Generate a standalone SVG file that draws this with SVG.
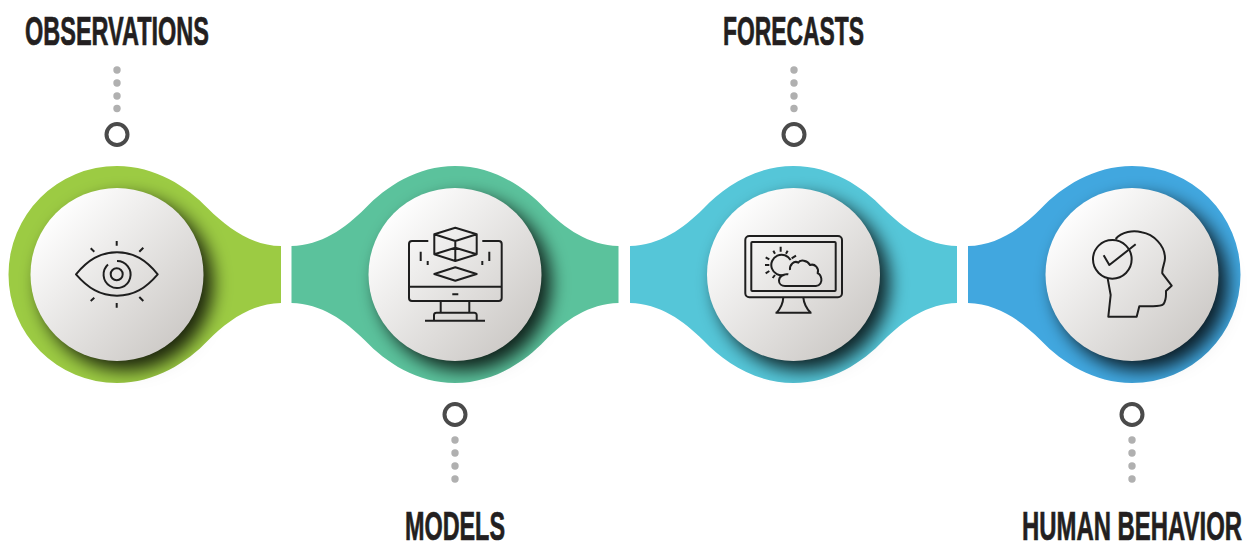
<svg xmlns="http://www.w3.org/2000/svg" width="1250" height="541" viewBox="0 0 1250 541">
<style>
.lbl{font-family:"Liberation Sans Narrow","Liberation Sans",Arial,sans-serif;font-weight:700;font-size:41px;fill:#231f20;stroke:#231f20;stroke-width:.7px}
.ring{fill:none;stroke:#4a4a4a;stroke-width:4}
.dot{fill:#b0b0b0}
.disc{fill:url(#discGrad)}
.shadow{fill:#000;fill-opacity:.82;filter:url(#blur)}
.faint{fill:#000;fill-opacity:.1;filter:url(#blur)}
.ico{fill:none;stroke:#1e1e1e;stroke-width:2;stroke-linecap:butt;stroke-linejoin:round}
.big{stroke-width:6}
</style>
<defs>
<linearGradient id="discGrad" x1="0.13" y1="0.13" x2="0.87" y2="0.87">
<stop offset="0" stop-color="#ffffff"/><stop offset="1" stop-color="#cdcac7"/>
</linearGradient>
<filter id="blur" x="-30%" y="-30%" width="160%" height="160%"><feGaussianBlur stdDeviation="9"/></filter>
<path id="shapeL" d="M164,-28.5C135,-29 111,-46 91,-66C70,-88 38,-108.5 0,-108.5A108.5,108.5 0 0 0 0,108.5C38,108.5 70,88 91,66C111,46 135,29 164,28.5Z"/>
<path id="shapeM" d="M-163.500,-28.500C-134,-29 -110,-46 -90,-66C-69,-88 -38,-108.500 0,-108.500C38,-108.500 69,-88 90,-66C110,-46 134,-29 163.500,-28.500L163.500,28.500C134,29 110,46 90,66C69,88 38,108.500 0,108.500C-38,108.500 -69,88 -90,66C-110,46 -134,29 -163.500,28.500Z"/>
<path id="shapeR" d="M-164,-28.500C-135,-29 -111,-46 -91,-66C-70,-88 -38,-108.500 0,-108.500A108.500,108.500 0 0 1 0,108.500C-38,108.500 -70,88 -91,66C-111,46 -135,29 -164,28.500Z"/>
<clipPath id="clipL"><use href="#shapeL"/></clipPath>
<clipPath id="clipM"><use href="#shapeM"/></clipPath>
<clipPath id="clipR"><use href="#shapeR"/></clipPath>
<g id="dotsUp"><circle class="dot" cx="0" cy="70" r="3.700"/><circle class="dot" cx="0" cy="83" r="3.700"/><circle class="dot" cx="0" cy="96" r="3.700"/><circle class="dot" cx="0" cy="108.500" r="3.700"/><circle class="ring" cx="0" cy="134.500" r="10.500"/></g>
<g id="dotsDown"><circle class="ring" cx="0" cy="414.500" r="10.500"/><circle class="dot" cx="0" cy="440" r="3.700"/><circle class="dot" cx="0" cy="453" r="3.700"/><circle class="dot" cx="0" cy="466" r="3.700"/><circle class="dot" cx="0" cy="479" r="3.700"/></g>
</defs>

<g id="connectors">
<use href="#dotsUp" x="117"/>
<use href="#dotsDown" x="455"/>
<use href="#dotsUp" x="794"/>
<use href="#dotsDown" x="1132"/>
</g>

<g id="node-observations">
<g transform="translate(117 274.500)">
<circle class="faint" cx="12" cy="12" r="86"/>
<use href="#shapeL" fill="#9ccb43"/>
<g clip-path="url(#clipL)"><circle class="shadow" cx="9" cy="9" r="87"/></g>
<circle class="disc" r="86.500"/>
</g>
<g class="ico">
<path d="M76,274.300C88,260 100,252.300 117,252.300C134,252.300 146,260 157.700,274.300C146,288 134,295.700 117,295.700C100,295.700 88,288 76,274.300Z"/>
<circle cx="116.700" cy="274.300" r="6"/>
<path d="M117,261A13.500,13.500 0 1 1 108,264.500"/>
<path d="M116.700,241V245.700M116.700,303V307.700M90.700,248.300L94.300,251.700M143.300,247.700L139.300,251.700M90.700,301L94.300,297.700M143.300,301L139.300,297"/>
</g>
<text class="lbl" x="25" y="44.500" textLength="184" lengthAdjust="spacingAndGlyphs">OBSERVATIONS</text>
</g>

<g id="node-models">
<g transform="translate(455 274.500)">
<circle class="faint" cx="12" cy="12" r="86"/>
<use href="#shapeM" fill="#5bc29c"/>
<g clip-path="url(#clipM)"><circle class="shadow" cx="9" cy="9" r="87"/></g>
<circle class="disc" r="86.500"/>
</g>
<g class="ico">
<path d="M428.300,241H412A3,3 0 0 0 409,244V298A3,3 0 0 0 412,301H498.700A3,3 0 0 0 501.700,298V244A3,3 0 0 0 498.700,241H482.300"/>
<path d="M409,286.700H501.700M452.300,294.300H458.300"/>
<path d="M440.700,301V312.700M469.300,301V312.700M434,320.700V315A2.500,2.500 0 0 1 436.500,312.700H474A2.500,2.500 0 0 1 476.700,315V320.700M425,320.700H485"/>
<path d="M455.300,227.700L476.700,234.300V254.300L455.300,261L434.300,254.300V234.300ZM434.300,234.300L455.300,241L476.700,234.300M455.300,241V261M434.300,254.300L455.300,247.700L476.700,254.300"/>
<path d="M434.300,274L455.300,267.300L476.700,274L455.300,280.700Z"/>
<path d="M420.700,251.700V261M427.700,261V265M489.300,251.700V261M482.300,261V265"/>
</g>
<text class="lbl" x="405" y="539.500" textLength="100" lengthAdjust="spacingAndGlyphs">MODELS</text>
</g>

<g id="node-forecasts">
<g transform="translate(793.500 274.500)">
<circle class="faint" cx="12" cy="12" r="86"/>
<use href="#shapeM" fill="#55c6d8"/>
<g clip-path="url(#clipM)"><circle class="shadow" cx="9" cy="9" r="87"/></g>
<circle class="disc" r="86.500"/>
</g>
<g class="ico">
<rect x="745.300" y="236" width="96.700" height="61.300" rx="4"/>
<rect x="751.300" y="242" width="84.400" height="49" rx="1"/>
<path d="M783.300,297.300C783,305 780,309 776.700,312.700M803.300,297.300C804,305 807,309 810.700,312.700M775.500,312.700H811.500"/>
<g transform="translate(720 210) scale(.3333)" class="big">
<path d="M212,150A31,31 0 1 0 193,195"/>
<path d="M182,110V125M160,122L165,131M203,122L198,131M137,142L148,148M135,165H148M137,190L148,183M158,204L165,195M228,137L215,145"/>
<path d="M205,193C190,190 177,200 177,212C177,222 185,228 195,228H288C300,228 306,216 304,206C302,196 297,191 293,190C298,175 285,160 270,165C262,150 240,148 235,158C222,150 208,165 210,180"/>
</g>
</g>
<text class="lbl" x="723" y="44.500" textLength="141" lengthAdjust="spacingAndGlyphs">FORECASTS</text>
</g>

<g id="node-human-behavior">
<g transform="translate(1132 274.500)">
<circle class="faint" cx="12" cy="12" r="86"/>
<use href="#shapeR" fill="#41a7df"/>
<g clip-path="url(#clipR)"><circle class="shadow" cx="9" cy="9" r="87"/></g>
<circle class="disc" r="86.500"/>
</g>
<g class="ico big" transform="translate(1070 215) scale(.3333)">
<circle cx="127" cy="133" r="58"/>
<path d="M101,121L118,150L197,88"/>
<path d="M137,72C155,50 190,45 215,52C250,58 285,90 285,130C285,145 275,160 277,175L305,212L288,228C288,240 290,255 280,268C270,277 255,272 208,274L200,305H115L122,240L113,190"/>
</g>
<text class="lbl" x="1022" y="539.500" textLength="220" lengthAdjust="spacingAndGlyphs">HUMAN BEHAVIOR</text>
</g>
</svg>
